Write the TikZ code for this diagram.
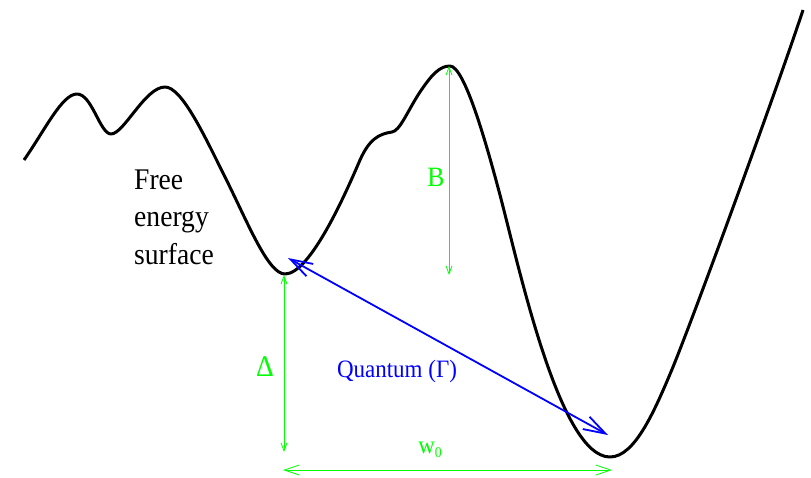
\documentclass[tikz,border=0pt]{standalone}
\usepackage{fontspec}
\setmainfont[FakeStretch=0.92]{Liberation Serif}
\usetikzlibrary{arrows.meta}

\begin{document}
\begin{tikzpicture}[x=1pt,y=-1pt,
	every node/.style={inner sep=0pt},
	dimline/.style={green, line width=0.8pt, {Straight Barb[length=8pt,width=6pt]}-{Straight Barb[length=8pt,width=6pt]}},
	tunnel/.style={blue, line width=1.8pt, {Straight Barb[length=22pt,width=14pt]}-{Straight Barb[length=22pt,width=14pt]}}]
	\useasboundingbox (0,0) rectangle (811,477);
	\draw[line width=3pt, line join=round] (24,160)
		.. controls (45,130) and (62,94) .. (77,94)
		.. controls (92,94) and (100,134) .. (111,134)
		.. controls (124,134) and (145,87) .. (165,87)
		.. controls (182,87) and (205,137) .. (225,177)
		.. controls (248,223) and (268,274) .. (285,274)
		.. controls (310,274) and (345,195) .. (360,160)
		.. controls (369,140) and (378,134) .. (392,132)
		.. controls (400,131) and (408,110) .. (420,92)
		.. controls (432,74) and (440,66) .. (450,66)
		.. controls (465,66) and (488,150) .. (500,195)
		.. controls (520,271) and (560,457) .. (610,457)
		.. controls (635,457) and (655,410) .. (673,367)
		.. controls (700,300) and (780,80) .. (803,10);
	\coordinate (minL) at (284,275);
	\coordinate (minLlow) at (284,452);
	\coordinate (top) at (449,66);
	\coordinate (topLow) at (449,275);
	\coordinate (wL) at (283,470);
	\coordinate (wR) at (612,470);
	\coordinate (qA) at (288,258);
	\coordinate (qB) at (608,435);
	\draw[dimline] (minL) -- (minLlow);
	\draw[dimline] (top) -- (topLow);
	\draw[dimline, {Straight Barb[length=15pt,width=10pt]}-{Straight Barb[length=15pt,width=10pt]}] (wL) -- (wR);
	\draw[tunnel] (qA) -- (qB);
	\node[anchor=west, align=left, font=\fontsize{30}{37.5}\selectfont] (fes) at (134,217) {Free\\energy\\surface};
	\node[anchor=base, blue, font=\fontsize{25}{30}\selectfont] (qlab) at (397,377) {Quantum (Γ)};
	\node[green, font=\fontsize{30}{36}\selectfont] (dlab) at (265,367) {Δ};
	\node[green, font=\fontsize{28}{34}\selectfont] (blab) at (436,177) {B};
	\node[anchor=base, green, font=\fontsize{25}{30}\selectfont] (wlab) at (430,453) {w\raisebox{-0.35ex}{\fontsize{15}{18}\selectfont 0}};
\end{tikzpicture}
\end{document}
